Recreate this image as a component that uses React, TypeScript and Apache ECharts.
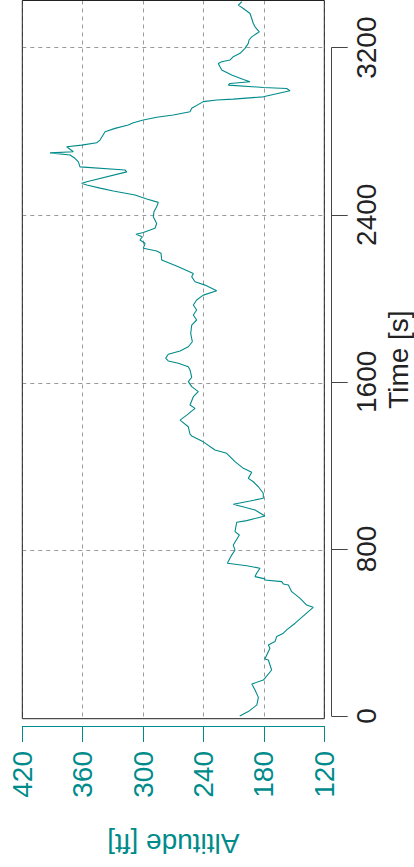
import React, { useEffect, useRef } from "react";
import * as echarts from "echarts";

// Flight trace: time [s] and altitude [ft]
const timeSec: number[] = [
  0, 21, 53, 89, 124, 153, 172, 220, 268, 273, 324, 340, 356, 380, 396, 412, 444, 520, 531, 563,
  595, 627, 632, 643, 651, 656, 667, 683, 707, 719, 731, 770, 794, 818, 866, 882, 927, 935, 957, 986,
  1013, 1029, 1042, 1066, 1097, 1121, 1137, 1166, 1185, 1217, 1257, 1273, 1312, 1340, 1349, 1384, 1416, 1440, 1472, 1488,
  1528, 1552, 1576, 1600, 1621, 1656, 1671, 1688, 1699, 1712, 1731, 1747, 1767, 1791, 1831, 1871, 1895, 1919, 1943, 1967,
  1991, 2014, 2035, 2062, 2078, 2102, 2118, 2150, 2182, 2214, 2225, 2238, 2262, 2278, 2293, 2305, 2314, 2334, 2357, 2389,
  2413, 2437, 2458, 2474, 2493, 2512, 2526, 2541, 2549, 2557, 2604, 2613, 2628, 2652, 2669, 2685, 2695, 2700, 2724, 2732,
  2743, 2756, 2796, 2812, 2828, 2839, 2852, 2865, 2876, 2892, 2908, 2940, 2948, 2952, 2963, 2992, 3003, 3008, 3019, 3027,
  3035, 3046, 3067, 3091, 3123, 3131, 3139, 3155, 3171, 3195, 3219, 3235, 3250, 3266, 3274, 3298, 3314, 3338, 3362, 3386,
  3402, 3418,
];
const altitudeFt: number[] = [
  204, 195.5, 187, 185.5, 188.8, 192, 180.6, 172.3, 175.6, 179, 174, 175.6, 169, 167.3, 160.7, 157.4, 149, 131, 137.5, 144,
  152.4, 155.7, 160.7, 162.3, 179, 179, 188.8, 187.2, 183.9, 197, 216.3, 212, 208.7, 210.4, 204.4, 208.7, 207, 197.1, 179, 188.8,
  210.4, 193.8, 180.6, 180.6, 185.5, 190.5, 195.5, 192.1, 200.4, 208.7, 217, 228.6, 240.2, 251.7, 253.4, 255.1, 263.3, 256.7, 248.4, 253.4,
  250.1, 245.2, 251.7, 255.1, 251.7, 253.4, 255.1, 265, 275, 277.6, 275, 263.3, 255.1, 251.1, 252.7, 251.7, 246.8, 250.1, 246.8, 250.1,
  246.8, 240.2, 226.9, 238.5, 248.4, 251.7, 250.1, 265, 281.5, 282.2, 286.5, 299.8, 298.1, 303.1, 300.8, 307.1, 299.8, 288.2, 286.5, 289.9,
  289.2, 286.5, 284.9, 296.4, 308, 329.6, 342.8, 356, 361, 356, 316.3, 318, 362.7, 364.3, 367.7, 372.6, 392.5, 369.3, 375.9, 361,
  346.1, 342.8, 337.8, 327.9, 314.7, 309.7, 299.8, 286.5, 270, 253.4, 251.7, 240.2, 226.9, 210.4, 180.6, 154.1, 157.4, 180.6, 215.3, 213.7,
  193.8, 200.4, 212, 221.9, 225.3, 221.9, 213.7, 210.4, 203.7, 198.8, 195.5, 194.8, 192.1, 187.2, 184.6, 188.8, 190.5, 192.1, 193.8, 200.4,
  205.4, 202,
];

const altitudeTicks = { min: 120, max: 420, step: 60 };
const timeTicks = { min: 0, max: 3200, step: 800 };
const timeRange = { min: -13, max: 3424 };

const TEAL = "#008B8B";
const DARK = "#222222";
const GRIDC = "#9a9a9a";
const FONT = "Liberation Sans, Arial, sans-serif";

export default function App() {
  const ref = useRef<HTMLDivElement>(null);
  useEffect(() => {
    if (!ref.current) return;
    const chart = echarts.init(ref.current, undefined, { renderer: "svg" });
    const data = timeSec.map((t, i) => [altitudeFt[i], t]);
    const boxL = 22.3, boxR = 89.7, boxT = 0.5, boxB = 148.3;
    const plain = (v: number) => String(v);
    const option: any = {
      animation: false,
      textStyle: { fontFamily: FONT },
      grid: [
        { left: boxL, right: boxR, top: boxT, bottom: boxB, show: true, borderColor: DARK, borderWidth: 1, backgroundColor: "transparent", z: 10, containLabel: false, outerBoundsMode: "none" },
        { left: boxL, right: boxR, top: 47.7, bottom: 151, containLabel: false, outerBoundsMode: "none" },
        { left: boxL, right: boxR, top: 47.7, bottom: 316.3, containLabel: false, outerBoundsMode: "none" },
      ],
      xAxis: [
        {
          gridIndex: 0,
          type: "value",
          inverse: true,
          min: altitudeTicks.min,
          max: altitudeTicks.max,
          interval: altitudeTicks.step,
          position: "bottom",
          offset: 7.3,
          axisLine: { show: true, onZero: false, lineStyle: { color: TEAL, width: 1 } },
          axisTick: { show: true, length: 16, lineStyle: { color: TEAL, width: 1 } },
          axisLabel: { show: true, rotate: 90, margin: 25, fontSize: 28, color: TEAL, fontFamily: FONT, showMinLabel: true, showMaxLabel: true, formatter: plain },
          splitLine: { show: true, lineStyle: { color: GRIDC, type: [4, 4], width: 1 } },
          name: "Altitude [ft]",
          nameLocation: "middle",
          nameRotate: 180,
          nameGap: 103,
          nameTextStyle: { fontSize: 28, color: TEAL, fontFamily: FONT },
        },
        { gridIndex: 1, type: "value", min: 0, max: 1, show: false, axisLine: { onZero: false } },
        { gridIndex: 2, type: "value", min: 0, max: 1, show: false, axisLine: { onZero: false } },
      ],
      yAxis: [
        {
          gridIndex: 0,
          type: "value",
          min: timeRange.min,
          max: timeRange.max,
          position: "right",
          axisLine: { show: false, onZero: false },
          axisTick: { show: false },
          axisLabel: { show: false },
          splitLine: { show: false },
          name: "Time [s]",
          nameLocation: "middle",
          nameRotate: 90,
          nameGap: 60,
          nameTextStyle: { fontSize: 28, color: DARK, fontFamily: FONT },
        },
        {
          gridIndex: 1,
          type: "value",
          min: timeTicks.min,
          max: timeTicks.max,
          interval: timeTicks.step,
          position: "right",
          offset: 7.4,
          axisLine: { show: true, onZero: false, lineStyle: { color: "#444", width: 1 } },
          axisTick: { show: true, length: 16, lineStyle: { color: "#444", width: 1 } },
          axisLabel: { show: true, rotate: 90, margin: 21, fontSize: 28, color: DARK, fontFamily: FONT, showMinLabel: true, showMaxLabel: true, formatter: plain },
          splitLine: { show: false },
        },
        {
          gridIndex: 2,
          type: "value",
          min: timeTicks.step,
          max: timeTicks.max,
          interval: timeTicks.step,
          axisLine: { show: false, onZero: false },
          axisTick: { show: false },
          axisLabel: { show: false },
          splitLine: { show: true, lineStyle: { color: GRIDC, type: [4, 4], width: 1 } },
        },
      ],
      series: [
        {
          type: "line",
          xAxisIndex: 0,
          yAxisIndex: 0,
          data,
          showSymbol: false,
          symbol: "none",
          clip: true,
          lineStyle: { color: TEAL, width: 1.1 },
          z: 5,
        },
      ],
    };
    chart.setOption(option);
    return () => chart.dispose();
  }, []);
  return (
    <div
      ref={ref}
      style={{ position: "fixed", left: 0, top: 0, width: 414, height: 867, background: "#fff" }}
    />
  );
}
